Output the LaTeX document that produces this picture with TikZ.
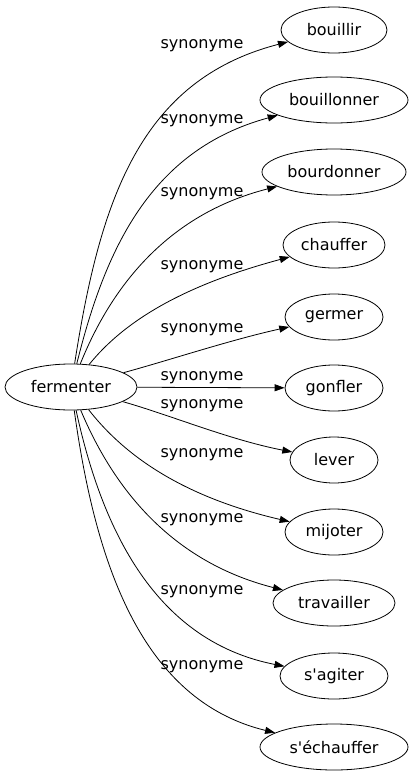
\documentclass[tikz,border=0pt]{standalone}
\usepackage{fontspec}
\newfontfamily\wordfont{DejaVu Sans}
\usetikzlibrary{arrows.meta,shapes.geometric}
\tikzset{
  word/.style={draw,ellipse,line width=0.8pt,minimum height=46pt,inner sep=0pt,font=\wordfont\fontsize{16}{19}\selectfont},
  syn/.style={font=\wordfont\fontsize{16}{19}\selectfont},
  rel/.style={-{Triangle[length=10pt,width=7pt]},line width=0.8pt},
}

\begin{document}
\begin{tikzpicture}[x=1pt,y=-1pt]
\useasboundingbox (0,0) rectangle (413,779);
\node[word,minimum width=132pt] (fermenter) at (71,387) {fermenter};
\foreach \n/\t/\y/\w in {bouillir/bouillir/30/106, bouillonner/bouillonner/100/148,
    bourdonner/bourdonner/172/144, chauffer/chauffer/245/102, germer/germer/317/98,
    gonfler/gonfler/388/98, lever/lever/460/88, mijoter/mijoter/532/98,
    travailler/travailler/603/122, sagiter/s'agiter/676/108, sechauffer/s'échauffer/747/148} {
    \node[word,minimum width=\w pt] (\n) at (334,\y) {\t};
}
\foreach \y in {46,121,194,267,330,378,406,455,520,592,667} {
    \node[syn] (syn\y) at (202,\y) {synonyme};
}
\draw[rel] (fermenter) .. controls (100,200) and (140,80) .. (bouillir);
\draw[rel] (fermenter) .. controls (105,250) and (150,150) .. (bouillonner);
\draw[rel] (fermenter) .. controls (110,290) and (165,215) .. (bourdonner);
\draw[rel] (fermenter) .. controls (125,320) and (185,285) .. (chauffer);
\draw[rel] (fermenter) .. controls (170,360) and (230,340) .. (germer);
\draw[rel] (fermenter) -- (gonfler);
\draw[rel] (fermenter) .. controls (170,415) and (230,440) .. (lever);
\draw[rel] (fermenter) .. controls (120,450) and (175,495) .. (mijoter);
\draw[rel] (fermenter) .. controls (110,480) and (165,560) .. (travailler);
\draw[rel] (fermenter) .. controls (100,520) and (150,640) .. (sagiter);
\draw[rel] (fermenter) .. controls (95,560) and (140,700) .. (sechauffer);
\end{tikzpicture}
\end{document}
